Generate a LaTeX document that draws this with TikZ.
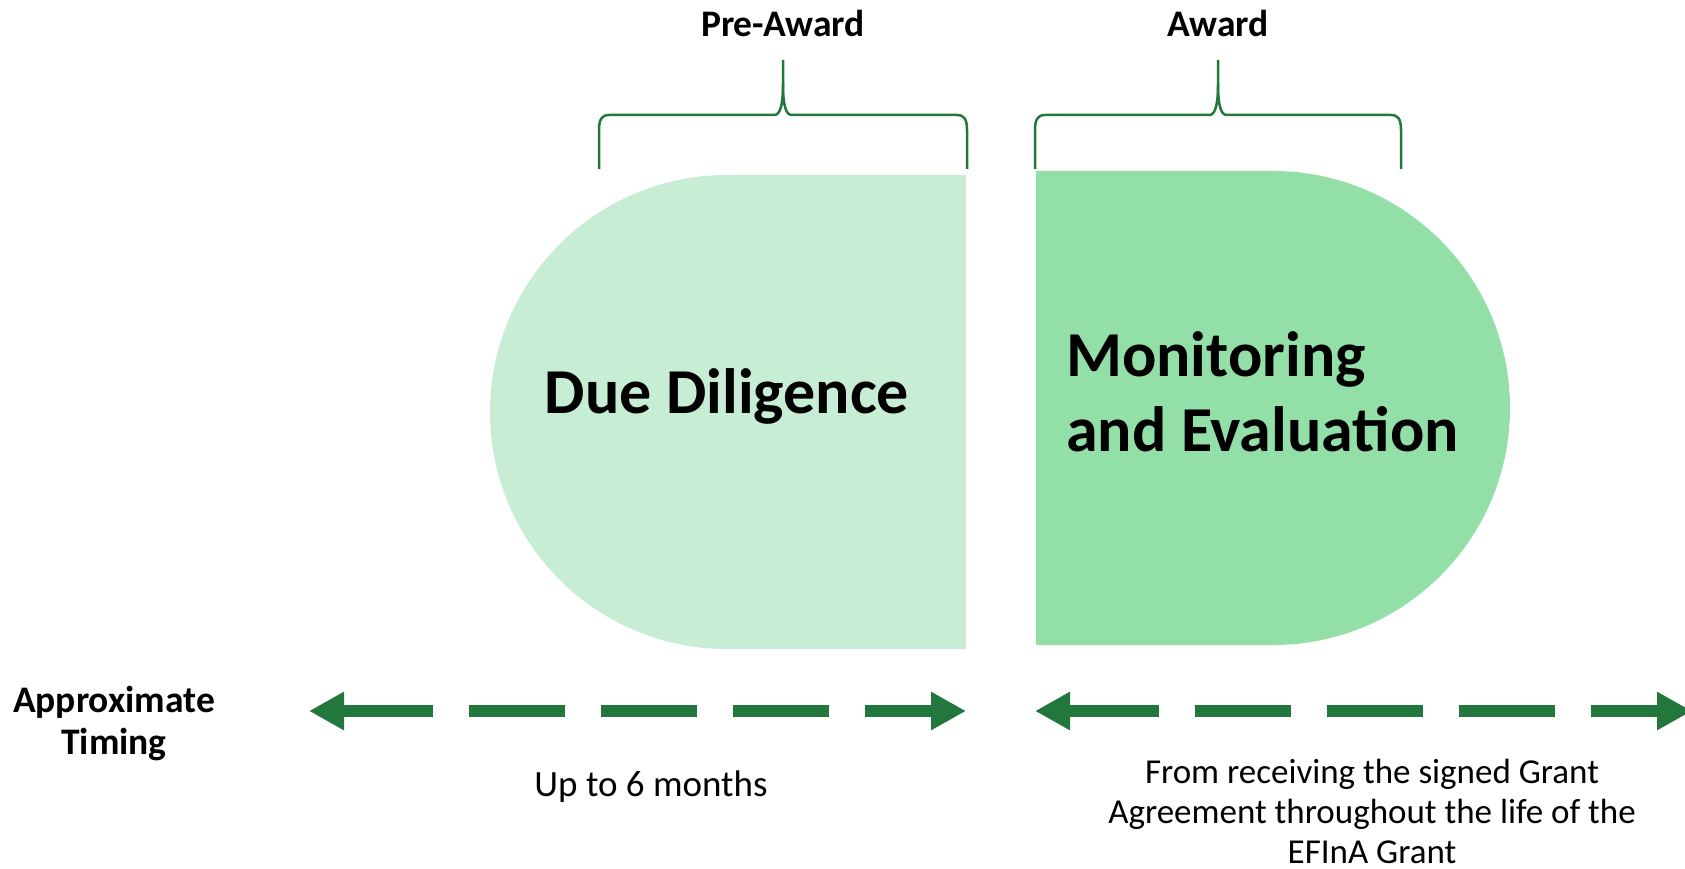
\documentclass[tikz,border=0pt]{standalone}
\usepackage{fontspec}
\setmainfont{Carlito}
\usepackage{tikz}
\usetikzlibrary{arrows.meta}
\definecolor{efgreen}{RGB}{34,119,61}
\definecolor{prephase}{RGB}{200,237,213}
\definecolor{awardphase}{RGB}{146,224,168}

\begin{document}
\begin{tikzpicture}[x=1pt, y=-1pt,
		bracket/.style={draw=efgreen, line width=2.5pt, line join=round},
		timing/.style={draw=efgreen, line width=12pt, dash pattern=on 96pt off 36pt, dash phase=5pt,
			{Triangle[length=35pt,width=36pt]}-{Triangle[length=35pt,width=36pt]}},
		phasetext/.style={inner sep=0pt, font=\bfseries\fontsize{64}{75}\selectfont},
		heading/.style={inner sep=0pt, font=\bfseries\fontsize{37.5}{42}\selectfont},
		note/.style={inner sep=0pt, font=\fontsize{37}{40}\selectfont}]
	\useasboundingbox (0,0) rectangle (1685,869);
	% the two phases
	\fill[prephase] (966,175) -- (727,175) arc[start angle=270, end angle=90, radius=237] -- (966,649) -- cycle;
	\fill[awardphase] (1036,171) -- (1273,171) arc[start angle=270, end angle=450, radius=237] -- (1036,645) -- cycle;
	\node[phasetext, anchor=base] (due) at (727,413) {Due Diligence};
	\node[phasetext, align=left, anchor=west] (monitor) at (1066,392) {Monitoring\\and Evaluation};
	% braces with their headings
	\foreach[count=\i] \bl/\br/\btitle in {599/967/Pre-Award, 1035/1401/Award} {
		\pgfmathsetmacro{\bm}{(\bl+\br)/2}
		\draw[bracket] (\bl,169) -- (\bl,130) .. controls (\bl,119) and ({\bl+3},115) .. ({\bl+10},115)
			-- ({\bm-8},115) .. controls ({\bm-2},114) and (\bm,102) .. (\bm,84) -- (\bm,60);
		\draw[bracket] (\bm,84) .. controls (\bm,102) and ({\bm+2},114) .. ({\bm+8},115)
			-- ({\br-10},115) .. controls ({\br-3},115) and (\br,119) .. (\br,130) -- (\br,169);
		\node[heading, anchor=base] (head-\i) at (\bm,37) {\btitle};
	}
	% timing arrows
	\coordinate (pre-start) at (309,711);
	\coordinate (pre-end) at (966,711);
	\coordinate (award-start) at (1035,711);
	\coordinate (award-end) at (1692,711);
	\draw[timing] (pre-start) -- (pre-end);
	\draw[timing] (award-start) -- (award-end);
	\node[heading, align=center, anchor=base] (timing) at (114,754) {Approximate\\Timing};
	\node[note, anchor=base] (sixmonths) at (651,796) {Up to 6 months};
	\node[note, align=center, anchor=base, font=\fontsize{35}{40}\selectfont] (grantlife) at (1372,863) {From receiving the signed Grant\\Agreement throughout the life of the\\EFInA Grant};
\end{tikzpicture}
\end{document}
